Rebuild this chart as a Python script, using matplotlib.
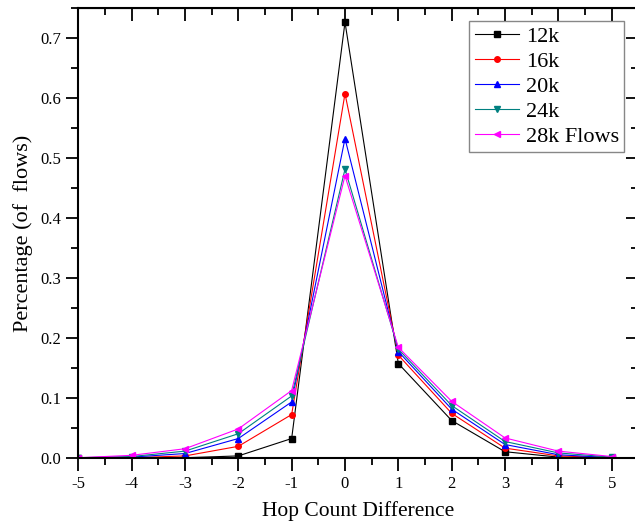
import numpy as np
import matplotlib
matplotlib.use('Agg')
import matplotlib.pyplot as plt
from matplotlib.ticker import MultipleLocator, FormatStrFormatter

plt.rcParams['font.family'] = 'Liberation Serif'
plt.rcParams['axes.unicode_minus'] = False

# data
hop_diff = [-5, -4, -3, -2, -1, 0, 1, 2, 3, 4, 5]
flows_12k = [0.000, 0.000, 0.001, 0.004, 0.033, 0.727, 0.158, 0.063, 0.011, 0.002, 0.000]
flows_16k = [0.000, 0.001, 0.004, 0.020, 0.073, 0.608, 0.172, 0.075, 0.017, 0.004, 0.001]
flows_20k = [0.001, 0.002, 0.008, 0.033, 0.094, 0.533, 0.178, 0.082, 0.023, 0.006, 0.001]
flows_24k = [0.001, 0.003, 0.012, 0.041, 0.104, 0.482, 0.182, 0.088, 0.028, 0.009, 0.002]
flows_28k = [0.001, 0.005, 0.016, 0.049, 0.113, 0.471, 0.185, 0.095, 0.034, 0.012, 0.003]
labels = ['12k', '16k', '20k', '24k', '28k Flows']

fig = plt.figure(figsize=(6.35, 5.25), dpi=100)
ax = fig.add_axes([0.1233, 0.127, 0.882, 0.857])

series = [flows_12k, flows_16k, flows_20k, flows_24k, flows_28k]
colors = ['black', 'red', 'blue', 'teal', 'magenta']
markers = ['s', 'o', '^', 'v', '<']
for ys, c, m, lab in zip(series, colors, markers, labels):
    ax.plot(hop_diff, ys, color=c, marker=m, markersize=4, linewidth=0.8, label=lab)

ax.set_xlim(-5, 5.5)
ax.set_ylim(0, 0.75)
ax.xaxis.set_major_locator(MultipleLocator(1))
ax.xaxis.set_minor_locator(MultipleLocator(0.5))
ax.yaxis.set_major_locator(MultipleLocator(0.1))
ax.yaxis.set_minor_locator(MultipleLocator(0.05))
ax.yaxis.set_major_formatter(FormatStrFormatter('%.1f'))
ax.tick_params(which='both', direction='out', width=1.3, labelsize=12)
ax.tick_params(which='major', length=9)
ax.tick_params(which='minor', length=5)
for s in ax.spines.values():
    s.set_linewidth(1.5)

# mirrored ticks pointing inward on top/right
top = ax.secondary_xaxis('top')
top.xaxis.set_major_locator(MultipleLocator(1))
top.xaxis.set_minor_locator(MultipleLocator(0.5))
top.tick_params(which='both', direction='in', width=1.3, labeltop=False)
top.tick_params(which='major', length=9)
top.tick_params(which='minor', length=5)
right = ax.secondary_yaxis('right')
right.yaxis.set_major_locator(MultipleLocator(0.1))
right.yaxis.set_minor_locator(MultipleLocator(0.05))
right.tick_params(which='both', direction='in', width=1.3, labelright=False)
right.tick_params(which='major', length=9)
right.tick_params(which='minor', length=5)

ax.set_xlabel('Hop Count Difference', fontsize=15.5, labelpad=7)
ax.set_ylabel('Percentage (of  flows)', fontsize=16, labelpad=5)

leg = ax.legend(loc='upper right', bbox_to_anchor=(0.975, 0.973), fontsize=16,
                fancybox=False, edgecolor='dimgray', handlelength=2.0,
                handletextpad=0.3, labelspacing=0.2, borderpad=0.25, borderaxespad=0)
leg.get_frame().set_linewidth(1.0)

plt.savefig('out.png', dpi=100)
